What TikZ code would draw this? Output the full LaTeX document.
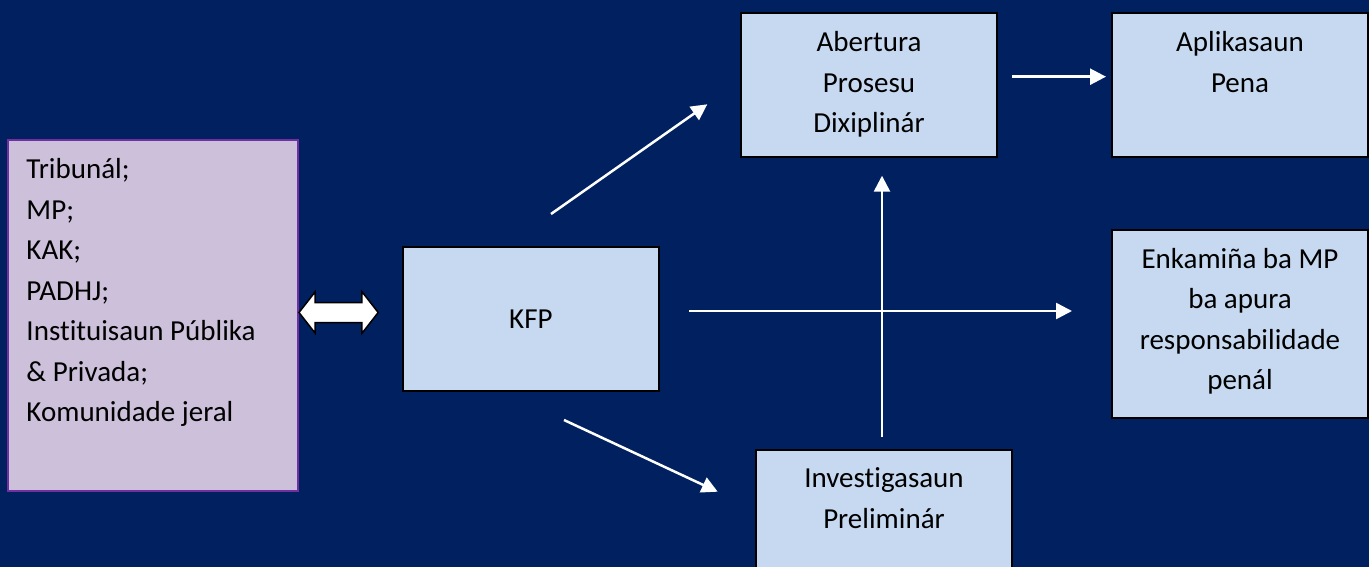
\documentclass[tikz,border=0pt]{standalone}
\usepackage{fontspec}
\setmainfont{Carlito}[Ligatures={NoCommon}]
\usepackage{xcolor}
\usepackage{tikz}
\usetikzlibrary{shapes,shapes.arrows,arrows.meta,positioning,calc}
\definecolor{navybg}{RGB}{0,32,96}
\definecolor{boxblue}{RGB}{198,217,241}
\definecolor{lilac}{RGB}{204,192,218}
\definecolor{purpleline}{RGB}{112,48,160}
\newcommand{\fsz}{\fontsize{29}{40.5}\selectfont}
\tikzset{
  box/.style={draw=black, line width=2pt, fill=boxblue, minimum width=256, minimum height=144, inner sep=0, font=\fsz},
  srcbox/.style={draw=purpleline, line width=2pt, fill=lilac, minimum width=289.7, minimum height=351, inner sep=0},
  txt/.style={inner sep=0, align=center, font=\fsz},
  conn/.style={draw=white, line width=2.5pt, -{Triangle[length=16pt, width=16pt]}},
  dblarrow/.style={double arrow, draw=black, fill=white, line width=1.5pt, inner sep=0,
      text height=9.25pt, text depth=9.25pt,
      minimum height=79.2, minimum width=40, double arrow head extend=10.75,
      double arrow tip angle=104}
}

\begin{document}
\begin{tikzpicture}[x=1pt, y=-1pt]
  \path[use as bounding box, fill=navybg] (0,0) rectangle (1369,567);

  % boxes
  \node[srcbox] (src) at (153.15,315.8) {};
  \node[box, minimum height=143.7] (kfp) at (530.9,318.9) {KFP};
  \node[box] (abe) at (869,85.3) {};
  \node[box] (apl) at (1240,85.3) {};
  \node[box, minimum height=188.3] (enk) at (1240,324) {};
  \node[box] (inv) at (884,522.3) {};

  % texts
  \node[txt, align=left, below right=11pt and 19pt of src.north west] (src-t)
      {\strut Tribunál;\\MP;\\KAK;\\PADHJ;\\Instituisaun Públika\\\& Privada;\\Komunidade jeral};
  \node[txt, below=11pt of abe.north] (abe-t) {\strut Abertura\\Prosesu\\Dixiplinár};
  \node[txt, below=11pt of apl.north] (apl-t) {\strut Aplikasaun\\Pena};
  \node[txt, below=11pt of enk.north] (enk-t) {\strut Enkamiña ba MP\\ba apura\\responsabilidade\\penál};
  \node[txt, below=10pt of inv.north] (inv-t) {\strut Investigasaun\\Preliminár};

  % double arrow between the institutions and KFP
  \node[dblarrow] (link) at (338.6,312.5) {};

  % arrow ends
  \coordinate (kfp-up) at (551,214);
  \coordinate (abe-in) at (707.3,104.3);
  \coordinate (kfp-dn) at (564,420);
  \coordinate (inv-in) at (717.7,491.7);
  \coordinate (kfp-out) at (689,311);
  \coordinate (enk-in) at (1072,311);
  \coordinate (inv-out) at (882,437);
  \coordinate (abe-bot) at (882,175.7);
  \coordinate (abe-out) at (1011.7,76.7);
  \coordinate (apl-in) at (1106,76.7);

  \draw[conn] (kfp-up) -- (abe-in);
  \draw[conn] (kfp-dn) -- (inv-in);
  \draw[conn] (kfp-out) -- (enk-in);
  \draw[conn] (inv-out) -- (abe-bot);
  \draw[conn] (abe-out) -- (apl-in);
\end{tikzpicture}
\end{document}
